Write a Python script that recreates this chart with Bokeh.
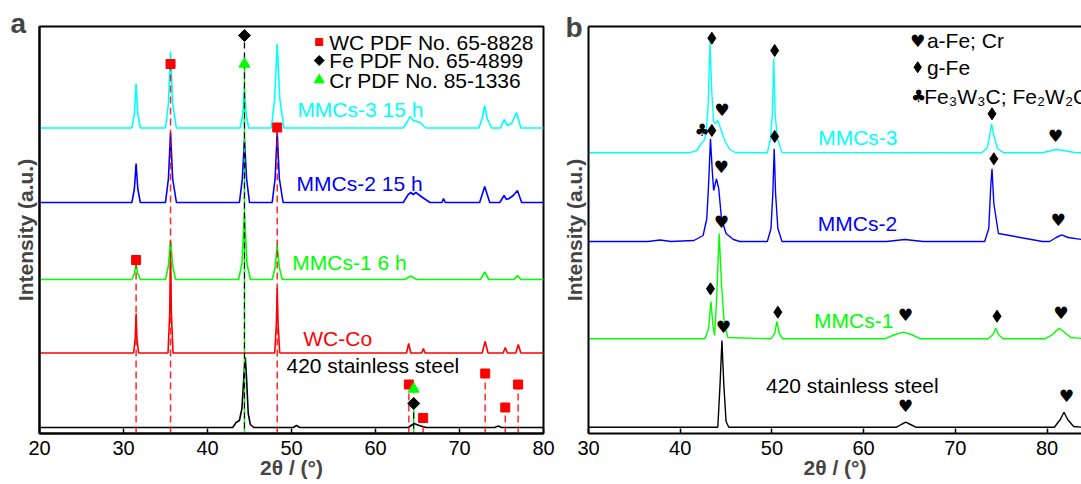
import math
from bokeh.plotting import figure
from bokeh.models import ColumnDataSource, FixedTicker, LinearAxis, Range1d
from bokeh.layouts import row
from bokeh.core.properties import value
from bokeh.embed import file_html
from bokeh.resources import INLINE

FONT = "Liberation Sans"
SYM = "DejaVu Sans"
CYAN, BLUE, GREEN, RED, BLACK = "#00FFFF", "#0000FF", "#00FF00", "#FF0000", "#000000"

# ---------------- Panel a data (2theta, intensity a.u. with offsets) ----------------
a_ticks = [20, 30, 40, 50, 60, 70, 80]

a_steel_x = [20, 43.0, 43.4, 43.8, 44.1, 44.35, 44.5, 44.65, 44.85, 45.1, 45.5, 50.2, 50.6, 51.0, 63.9, 64.6, 65.2, 66.0, 74.2, 74.6, 75.0, 80]
a_steel_y = [6, 6, 11, 13, 25, 60, 76, 55, 20, 9, 6, 6, 8, 6, 6, 10, 8, 6, 6, 7.5, 6, 6]

a_wcco_x = [20, 31.2, 31.4, 31.5, 31.6, 31.8, 35.3, 35.5, 35.6, 35.7, 35.9, 48.0, 48.2, 48.3, 48.4, 48.6,
            63.7, 63.95, 64.2, 65.5, 65.7, 65.9, 72.7, 73.05, 73.4, 75.2, 75.45, 75.7, 76.7, 77.0, 77.3, 80]
a_wcco_y = [80.5, 80.5, 95, 120, 95, 80.5, 80.5, 120, 187, 120, 80.5, 80.5, 110, 146, 110, 80.5,
            80.5, 90, 80.5, 80.5, 85, 80.5, 80.5, 92, 80.5, 80.5, 86, 80.5, 80.5, 89, 80.5, 80.5]

a_mmc1_x = [20, 31.0, 31.3, 31.5, 31.7, 32.0, 35.0, 35.35, 35.6, 35.85, 36.2, 43.7, 44.1, 44.4, 44.7, 45.1,
            47.7, 48.05, 48.3, 48.55, 48.9, 63.5, 64.2, 64.9, 72.5, 73.0, 73.5, 76.5, 76.9, 77.3, 80]
a_mmc1_y = [154, 154, 160, 169, 160, 154, 154, 168, 193, 168, 154, 154, 170, 220, 170, 154,
            154, 166, 188, 166, 154, 154, 157.5, 154, 154, 161.5, 154, 154, 158, 154, 154]

a_mmc2_x = [20, 31.0, 31.3, 31.5, 31.7, 32.0, 35.0, 35.35, 35.6, 35.85, 36.3, 43.8, 44.15, 44.4, 44.65, 45.0,
            47.7, 48.05, 48.3, 48.55, 49.0, 63.3, 63.9, 64.2, 64.5, 64.8, 65.6, 66.5, 67.9, 68.1, 68.3,
            72.4, 73.0, 73.6, 74.8, 75.3, 75.6, 75.9, 76.4, 76.9, 77.4, 80]
a_mmc2_y = [231, 231, 245, 270, 245, 231, 231, 255, 301, 255, 231, 231, 255, 294, 255, 231,
            231, 255, 301, 255, 231, 231, 239, 241, 239, 241, 236, 231, 231, 235, 231,
            231, 247, 231, 231, 238, 234, 235, 238, 243, 231, 231]

a_mmc3_x = [20, 31.0, 31.3, 31.5, 31.7, 32.0, 35.0, 35.35, 35.6, 35.85, 36.3, 43.9, 44.2, 44.4, 44.6, 44.9,
            47.6, 48.0, 48.3, 48.6, 49.1, 63.3, 63.8, 64.1, 64.5, 65.3, 66.0, 72.3, 72.7, 73.0, 73.3, 73.8,
            74.9, 75.3, 75.7, 76.2, 76.8, 77.3, 80]
a_mmc3_y = [305.5, 305.5, 320, 350, 320, 305.5, 305.5, 330, 382, 330, 305.5, 305.5, 320, 345, 320, 305.5,
            305.5, 335, 390, 335, 305.5, 305.5, 312, 317, 313, 311, 305.5, 305.5, 315, 328, 315, 305.5,
            305.5, 314, 308, 310, 321, 305.5, 305.5]

# reference (PDF) lines and marker heights
wc_pos = [31.5, 35.6, 48.3, 63.97, 65.67, 73.06, 75.45, 76.98]
wc_top = [173.5, 369.5, 306, 49, 15.5, 60, 26, 49]
fe_pos = [44.4, 64.55]
fe_top = [398, 30]
cr_pos = [44.4, 64.55]
cr_top = [369.5, 44.5]

a_legend_text = ["WC PDF No. 65-8828", "Fe PDF No. 65-4899", "Cr PDF No. 85-1336"]
a_legend_y = [391.5, 373, 353.5]

a_labels = ["MMCs-3 15 h", "MMCs-2 15 h", "MMCs-1 6 h", "WC-Co", "420 stainless steel"]
a_label_x = [50.7, 50.6, 50.1, 51.4, 49.4]
a_label_y = [324, 250, 171.3, 95.5, 68]
a_label_c = [CYAN, BLUE, GREEN, RED, BLACK]

# ---------------- Panel b data ----------------
b_ticks = [30, 40, 50, 60, 70, 80]

b_steel_x = [30, 44.1, 44.35, 44.55, 44.75, 45.0, 45.3, 63.6, 64.2, 64.6, 65.0, 65.7, 80.8, 81.45, 81.85, 82.25, 82.9, 83.8]
b_steel_y = [6.3, 6.3, 50, 93, 50, 12, 6.3, 6.3, 9.5, 11.3, 9.5, 6.3, 6.3, 14, 21.3, 14, 7, 6.3]

b_mmc1_x = [30, 42.7, 43.1, 43.35, 43.55, 43.75, 43.95, 44.25, 44.5, 44.8, 45.2, 49.9, 50.3, 50.55, 50.8, 51.2,
            62.3, 63.3, 64.3, 65.2, 66.2, 73.6, 74.1, 74.4, 74.7, 75.2, 79.8, 80.6, 81.3, 81.8, 82.6, 83.8]
b_mmc1_y = [94.7, 94.7, 105, 132, 110, 98, 130, 200, 150, 110, 96, 94.7, 100, 112, 100, 94.7,
            94.7, 98.5, 101.3, 99, 94.7, 94.7, 99, 105.3, 99, 94.7, 94.7, 99, 105.3, 102, 96, 95]

b_mmc2_x = [30, 36.5, 37.8, 39.0, 41.5, 42.5, 42.9, 43.1, 43.3, 43.5, 43.65, 43.95, 44.2, 44.5, 45.0, 45.8, 46.5,
            49.5, 49.9, 50.1, 50.25, 50.4, 50.65, 51.1, 62.5, 64.5, 66.5, 73.2, 73.65, 73.85, 74.0, 74.2, 74.7,
            79.5, 80.3, 81.0, 81.6, 82.3, 83.8]
b_mmc2_y = [192, 192, 193.5, 192, 193, 198, 215, 250, 294.7, 262, 243, 254.7, 245, 215, 200, 194, 192,
            192, 205, 240, 284.7, 240, 205, 192, 192, 194, 192, 192, 205, 245, 264.7, 230, 200,
            192, 192, 196, 198.7, 196, 194, 193]

b_mmc3_x = [30, 41.0, 41.8, 42.3, 42.6, 42.85, 43.05, 43.25, 43.45, 43.65, 43.85, 44.1, 44.4, 44.9, 45.4, 46.0,
            49.5, 49.85, 50.05, 50.2, 50.35, 50.6, 51.1, 72.9, 73.5, 73.75, 73.95, 74.2, 74.6, 75.3,
            79.5, 80.5, 81.0, 81.8, 83.0, 83.8]
b_mmc3_y = [280.7, 280.7, 283, 290, 293, 300, 330, 390.7, 340, 312, 310, 313, 305, 292, 284, 281,
            280.7, 295, 320, 374.7, 320, 295, 281, 280.7, 286, 298, 309.7, 298, 285, 280.7,
            280.7, 283, 284, 283, 281, 280.7]

# phase markers
gfe_x = [43.45, 50.3, 43.45, 74.0, 50.3, 74.2, 43.3, 50.65, 74.55]
gfe_y = [395.3, 383, 303, 319.7, 297, 274.7, 144.7, 121.3, 117.3]
afe_x = [44.55, 80.9, 44.45, 81.2, 44.5, 44.7, 64.55, 81.5, 64.55, 82.1]
afe_y = [323.7, 298, 266.3, 214, 211.3, 106.3, 118.7, 120.7, 27.3, 37.3]
carb_x = [42.4]
carb_y = [303.7]

b_legend_text = ["a-Fe; Cr", "g-Fe", "Fe\u2083W\u2083C; Fe\u2082W\u2082C"]
b_legend_y = [393, 366.3, 337.5]

b_labels = ["MMCs-3", "MMCs-2", "MMCs-1", "420 stainless steel"]
b_label_x = [55.05, 55.0, 54.6, 49.35]
b_label_y = [296.3, 209.7, 113, 48]
b_label_c = [CYAN, BLUE, GREEN, BLACK]


def style(p, ticks, letter, letter_offset, letter_standoff, panel_b=False):
    p.xgrid.visible = False
    p.ygrid.visible = False
    p.background_fill_color = "white"
    p.border_fill_color = "white"
    t = p.title
    t.text = letter
    t.text_font = FONT
    t.text_font_size = "28px"
    t.text_font_style = "bold"
    t.align = "left"
    t.offset = letter_offset
    t.standoff = letter_standoff
    xa = p.xaxis[0]
    xa.ticker = FixedTicker(ticks=ticks, minor_ticks=[])
    xa.axis_line_width = 2
    xa.major_tick_in = 5
    xa.major_tick_out = 0
    xa.minor_tick_in = 0
    xa.minor_tick_out = 0
    xa.major_tick_line_width = 1.5
    xa.major_label_text_font = FONT
    xa.major_label_text_font_size = "20px"
    xa.major_label_text_color = "black"
    xa.major_label_standoff = 7
    xa.axis_label = "2\u03b8 / (\u00b0)"
    xa.axis_label_text_font = FONT
    xa.axis_label_text_font_style = "bold"
    xa.axis_label_text_font_size = "21px"
    xa.axis_label_standoff = -2
    ya = p.yaxis[0]
    ya.ticker = FixedTicker(ticks=[], minor_ticks=[])
    ya.axis_line_width = 2
    ya.major_tick_out = 0
    ya.minor_tick_out = 0
    ya.major_tick_in = 0
    ya.minor_tick_in = 0
    ya.major_label_text_font_size = "0px"
    ya.axis_label = "Intensity (a.u.)"
    ya.axis_label_text_font = FONT
    ya.axis_label_text_font_style = "bold"
    ya.axis_label_text_font_size = "21px"
    ya.axis_label_standoff = 3
    if panel_b:
        p.outline_line_color = None
        top = LinearAxis(ticker=FixedTicker(ticks=[], minor_ticks=[]), axis_line_width=2,
                         major_tick_out=0, minor_tick_out=0, major_tick_in=0, minor_tick_in=0,
                         major_label_text_font_size="0px")
        p.add_layout(top, "above")
    else:
        p.outline_line_color = "black"
        p.outline_line_width = 2
        p.outline_line_alpha = 1


# ---------------- Panel a ----------------
pa = figure(width=556, height=484, x_range=Range1d(20, 80), y_range=Range1d(0, 407),
            output_backend="svg", toolbar_location=None,
            min_border_left=39, min_border_right=13, min_border_top=26, min_border_bottom=51)
style(pa, a_ticks, "a", -29, -24)

for xs, ys, c in [(a_steel_x, a_steel_y, BLACK), (a_wcco_x, a_wcco_y, RED), (a_mmc1_x, a_mmc1_y, GREEN),
                  (a_mmc2_x, a_mmc2_y, BLUE), (a_mmc3_x, a_mmc3_y, CYAN)]:
    pa.line(xs, ys, line_color=c, line_width=1.6)

pa.segment(x0=cr_pos, y0=[0] * len(cr_pos), x1=cr_pos, y1=cr_top, line_color=GREEN, line_width=1.5, line_dash="6 4")
pa.segment(x0=fe_pos, y0=[0] * len(fe_pos), x1=fe_pos, y1=fe_top, line_color=BLACK, line_width=1.3, line_dash="6 4",
           line_dash_offset=5)
pa.segment(x0=wc_pos, y0=[0] * len(wc_pos), x1=wc_pos, y1=wc_top, line_color=RED, line_width=1.5, line_dash="7 4",
           line_alpha=0.85)
pa.scatter(x=wc_pos, y=wc_top, marker="square", size=9, fill_color=RED, line_color=RED)
pa.scatter(x=fe_pos, y=fe_top, marker="square", angle=math.pi / 4, size=8.5, fill_color=BLACK, line_color=BLACK)
pa.scatter(x=cr_pos, y=cr_top, marker="triangle", size=11, fill_color=GREEN, line_color=GREEN)

# legend of panel a
pa.scatter(x=[53.3], y=[a_legend_y[0]], marker="square", size=7, fill_color=RED, line_color=RED)
pa.scatter(x=[53.3], y=[a_legend_y[1]], marker="square", angle=math.pi / 4, size=7, fill_color=BLACK, line_color=BLACK)
pa.scatter(x=[53.3], y=[a_legend_y[2]], marker="triangle", size=10, fill_color=GREEN, line_color=GREEN)
pa.text(x=[54.5] * 3, y=a_legend_y, text=a_legend_text, text_font=value(FONT), text_font_size="21px",
        text_color=BLACK, text_baseline="middle", text_align="left")

src_a = ColumnDataSource(dict(x=a_label_x, y=a_label_y, t=a_labels, c=a_label_c))
pa.text(x="x", y="y", text="t", text_color="c", source=src_a, text_font=value(FONT), text_font_size="21px",
        text_baseline="middle", text_align="left")

# ---------------- Panel b ----------------
pb = figure(width=525, height=484, x_range=Range1d(30, 83.76), y_range=Range1d(0, 407),
            output_backend="svg", toolbar_location=None,
            min_border_left=32, min_border_right=0, min_border_top=26, min_border_bottom=51)
style(pb, b_ticks, "b", -23, -32, panel_b=True)

for xs, ys, c in [(b_steel_x, b_steel_y, BLACK), (b_mmc1_x, b_mmc1_y, GREEN),
                  (b_mmc2_x, b_mmc2_y, BLUE), (b_mmc3_x, b_mmc3_y, CYAN)]:
    pb.line(xs, ys, line_color=c, line_width=1.4)

pb.scatter(x=gfe_x, y=gfe_y, marker="diamond", size=12, fill_color=BLACK, line_color=BLACK)
pb.text(x=afe_x, y=afe_y, text=["\u2665"] * len(afe_x), text_font=value(SYM), text_font_size="17px",
        text_color=BLACK, text_baseline="middle", text_align="center")
pb.text(x=carb_x, y=carb_y, text=["\u2663"] * len(carb_x), text_font=value(SYM), text_font_size="17px",
        text_color=BLACK, text_baseline="middle", text_align="center")

# legend of panel b
pb.text(x=[65.9], y=[b_legend_y[0]], text=["\u2665"], text_font=value(SYM), text_font_size="17px",
        text_color=BLACK, text_baseline="middle", text_align="center")
pb.scatter(x=[65.9], y=[b_legend_y[1]], marker="diamond", size=11, fill_color=BLACK, line_color=BLACK)
pb.text(x=[66.0], y=[b_legend_y[2]], text=["\u2663"], text_font=value(SYM), text_font_size="17px",
        text_color=BLACK, text_baseline="middle", text_align="center")
pb.text(x=[66.9, 66.9, 66.6], y=b_legend_y, text=b_legend_text, text_font=value(FONT), text_font_size="21px",
        text_color=BLACK, text_baseline="middle", text_align="left")

src_b = ColumnDataSource(dict(x=b_label_x, y=b_label_y, t=b_labels, c=b_label_c))
pb.text(x="x", y="y", text="t", text_color="c", source=src_b, text_font=value(FONT), text_font_size="21px",
        text_baseline="middle", text_align="left")

layout = row(pa, pb)
open("out.html", "w").write(file_html(layout, INLINE))
